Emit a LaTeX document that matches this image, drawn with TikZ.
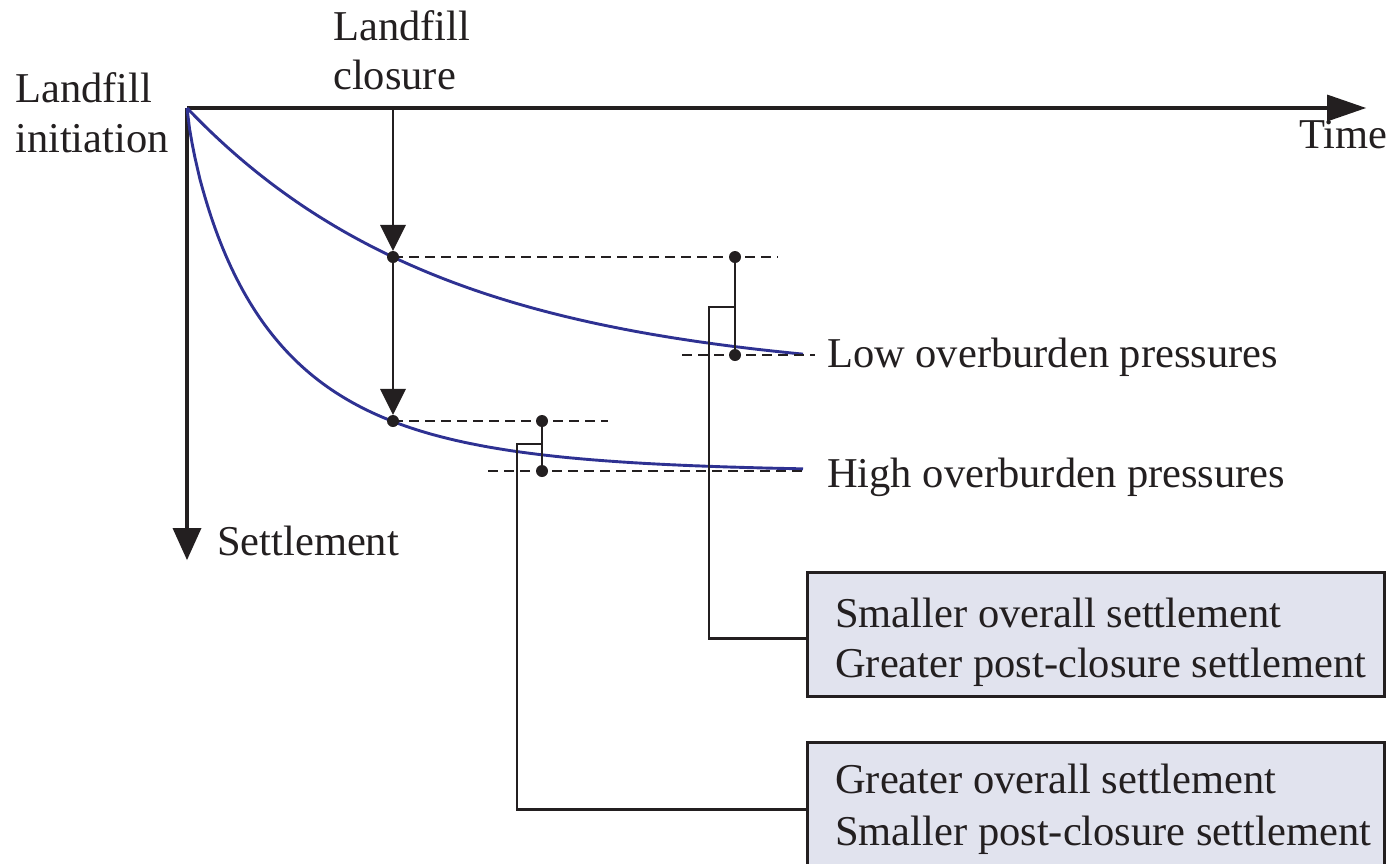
\documentclass[tikz,border=0pt]{standalone}
\usepackage{fontspec}
\setmainfont{Liberation Serif}
\usetikzlibrary{arrows.meta}
\definecolor{ink}{RGB}{35,31,32}
\definecolor{curveblue}{RGB}{46,49,146}
\definecolor{boxfill}{RGB}{225,227,238}
\begin{document}
\begin{tikzpicture}[x=1pt,y=-1pt,
  lbl/.style={font=\fontsize{42.5}{50}\selectfont, text=ink, inner sep=0pt, anchor=base west},
  axis/.style={draw=ink, line width=3.1pt},
  closearrow/.style={draw=ink, line width=2.9pt, -{Triangle[length=26pt,width=26pt,line width=0pt]}},
  curve/.style={draw=curveblue, line width=2.9pt},
  guide/.style={draw=ink, line width=2.9pt, dash pattern=on 10pt off 6pt},
  link/.style={draw=ink, line width=2.6pt},
  dot/.style={circle, fill=ink, inner sep=0pt, minimum size=12pt},
  infobox/.style={draw=ink, line width=3.1pt, fill=boxfill, inner sep=0pt, anchor=north west}]
\useasboundingbox (0,0) rectangle (1392,863);

% axes
\coordinate (O) at (187,108);
\coordinate (T) at (1366,108);
\coordinate (S) at (187,560);
\draw[axis, -{Triangle[length=39pt,width=27pt,line width=0pt]}] (O) -- (T);
\draw[axis, -{Triangle[length=32pt,width=29pt,line width=0pt]}] (O) -- (S);

% curves
\draw[curve] plot[domain=187:803, samples=160] (\x, {108+271*(1-exp(-(\x-187)/258))});
\draw[curve] plot[domain=187:803, samples=240] (\x, {108+364*(1-exp(-pow((\x-186.999)/88,0.8)))});

% closure points and arrows
\coordinate (C0) at (393,108);
\node[dot] (d1) at (393,257) {};
\node[dot] (d2) at (393,421) {};
\draw[closearrow] (C0) -- (d1);
\draw[closearrow] (d1) -- (d2);

% guide lines, low pressures
\coordinate (g1e) at (778,257);
\coordinate (g2s) at (682,355);
\coordinate (g2e) at (815,355);
\draw[guide] (d1.center) -- (g1e);
\draw[guide] (g2s) -- (g2e);
\node[dot] (p1) at (735,257) {};
\node[dot] (p2) at (735,355) {};
\draw[link] (p1.center) -- (p2.center);

% guide lines, high pressures
\coordinate (h1e) at (608,421);
\coordinate (h2s) at (488,471);
\coordinate (h2e) at (803,471);
\draw[guide] (d2.center) -- (h1e);
\draw[guide] (h2s) -- (h2e);
\node[dot] (q1) at (542,421) {};
\node[dot] (q2) at (542,471) {};
\draw[link] (q1.center) -- (q2.center);

% boxes
\node[infobox, minimum width=577pt, minimum height=124pt] (box1) at (806,571) {};
\node[infobox, minimum width=577pt, minimum height=134pt] (box2) at (806,741) {};

% brackets
\coordinate (b1) at (735,307);
\coordinate (b2) at (542,444);
\draw[link] (b1) -- ++(-26,0) |- ([yshift=-4pt]box1.west);
\draw[link] (b2) -- ++(-25,0) |- (box2.west);

% labels
\node[lbl] (li1) at (15,102) {Landfill};
\node[lbl] (li2) at (15,152) {initiation};
\node[lbl] (lc1) at (333,40) {Landfill};
\node[lbl] (lc2) at (333,89) {closure};
\node[lbl] (time) at (1299,148) {Time};
\node[lbl] (sett) at (217,555) {Settlement};
\node[lbl] (low) at (827,367) {Low overburden pressures};
\node[lbl] (high) at (827,487) {High overburden pressures};
\node[lbl] (b1t1) at (835,627) {Smaller overall settlement};
\node[lbl] (b1t2) at (835,677) {Greater post-closure settlement};
\node[lbl] (b2t1) at (835,793) {Greater overall settlement};
\node[lbl] (b2t2) at (835,845) {Smaller post-closure settlement};
\end{tikzpicture}
\end{document}
